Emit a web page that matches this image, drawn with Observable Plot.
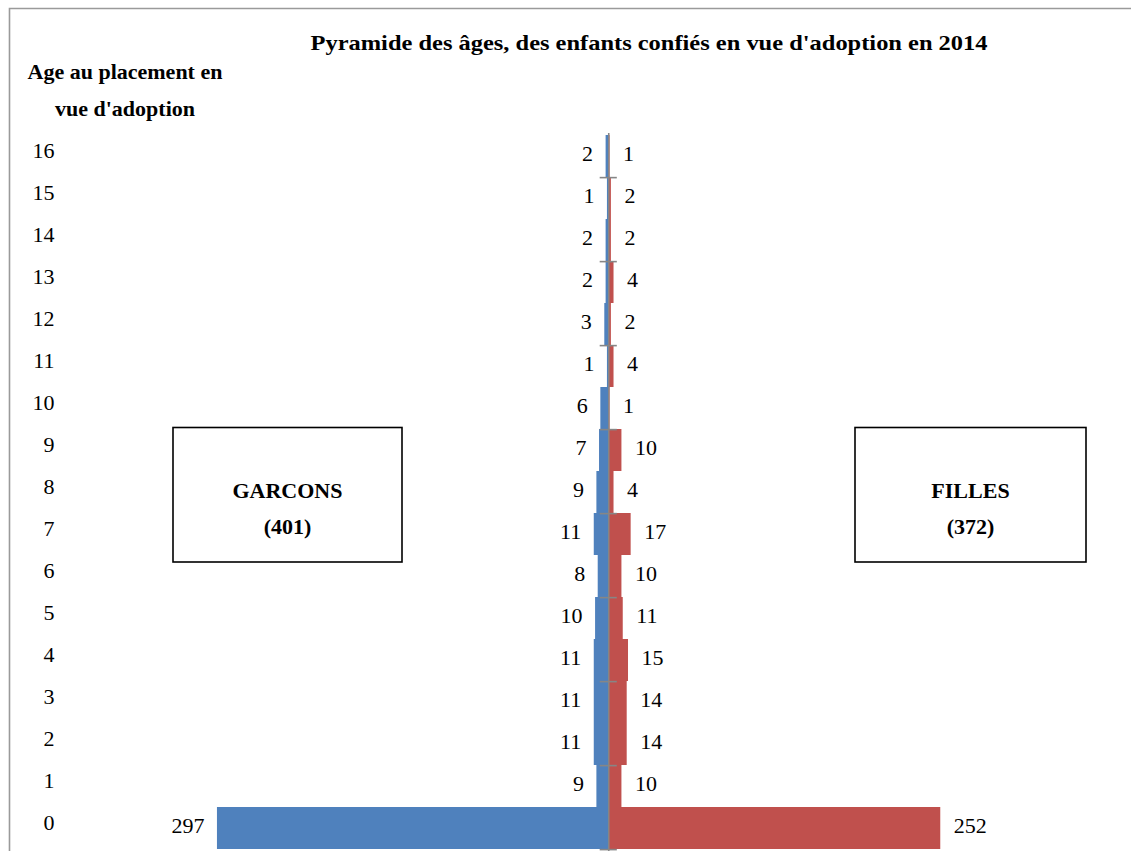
<!DOCTYPE html>
<html><head><meta charset="utf-8">
<script src="https://cdn.jsdelivr.net/npm/d3@7"></script>
<script src="https://cdn.jsdelivr.net/npm/@observablehq/plot@0.6"></script>
<style>
html,body{margin:0;padding:0;background:#fff;}
#chart{position:relative;width:1131px;height:851px;overflow:hidden;}
</style></head><body><div id="chart"></div>
<script>
// ---- data ----
const ages = [16,15,14,13,12,11,10,9,8,7,6,5,4,3,2,1,0];
const garcons = [2,1,2,2,3,1,6,7,9,11,8,10,11,11,11,9,297];
const filles  = [1,2,2,4,2,4,1,10,4,17,10,11,15,14,14,10,252];
const titleText = "Pyramide des âges, des enfants confiés en vue d'adoption en 2014";
const yLabelLines = ["Age au placement en", "vue d'adoption"];
const boxLabels = ["GARCONS", "FILLES"];
const boxTotals = ["(401)", "(372)"];
const colors = {garcons: "#4F81BD", filles: "#C0504D", axis: "#868686"};

const rows = ages.map((a, i) => ({age: a, garcons: garcons[i], filles: filles[i]}));
const font = "'Liberation Serif', 'Times New Roman', serif";
const W = 1131, H = 851, mTop = 133;
const bandwidth = (H - mTop) / ages.length;

const plot = Plot.plot({
  width: W, height: H,
  marginTop: mTop, marginBottom: 0, marginLeft: 213, marginRight: 127.5,
  style: {fontFamily: font, fontSize: "22px", color: "#000", background: "transparent", overflow: "visible"},
  x: {domain: [-300, 300], axis: null},
  y: {domain: ages, padding: 0, label: null},
  marks: [
    Plot.barX(rows, {y: "age", x1: 0, x2: d => -d.garcons, fill: colors.garcons}),
    Plot.barX(rows, {y: "age", x1: 0, x2: "filles", fill: colors.filles}),
    Plot.ruleX([0], {stroke: colors.axis, strokeWidth: 1.6}),
    Plot.ruleY(ages.filter(a => a % 2 === 0), {y: d => d, x1: -6.5, x2: 6.5, dy: bandwidth / 2, stroke: colors.axis, strokeWidth: 1.6}),
    Plot.text(rows, {y: "age", x: d => -d.garcons, text: "garcons", textAnchor: "end", dx: -13, dy: -3, fontSize: 22, fill: "#000"}),
    Plot.text(rows, {y: "age", x: "filles", text: "filles", textAnchor: "start", dx: 13, dy: -3, fontSize: 22, fill: "#000"}),
    Plot.axisY({anchor: "left", tickSize: 0, tickPadding: 159, dy: -6, fontSize: 22, label: null, fill: "#000"})
  ]
});

document.getElementById("chart").appendChild(plot);
const svg = d3.select(plot);

function boldText(x, y, t, size) {
  return svg.append("text").attr("x", x).attr("y", y).attr("text-anchor", "middle")
    .style("font-family", font).style("font-weight", "bold").attr("font-size", size)
    .attr("fill", "#000").text(t);
}

// outer frame (gray, left & top)
svg.append("path").attr("d", `M9.5,${H} V8.5 H${W}`).attr("fill", "none").attr("stroke", "#9a9a9a").attr("stroke-width", 1.6);

// title
boldText(649, 50, titleText, 22).attr("textLength", 677).attr("lengthAdjust", "spacingAndGlyphs");

// y axis title
yLabelLines.forEach((t, i) => boldText(125, i === 0 ? 79 : 116, t, 22));

// annotation boxes
const boxGeom = [{x: 173, y: 427.5, w: 229, h: 134.5}, {x: 855, y: 427.5, w: 231, h: 134.5}];
boxGeom.forEach((b, i) => {
  svg.append("rect").attr("x", b.x).attr("y", b.y).attr("width", b.w).attr("height", b.h)
    .attr("fill", "#fff").attr("stroke", "#000").attr("stroke-width", 1.6);
  boldText(b.x + b.w / 2, 498, boxLabels[i], 22);
  boldText(b.x + b.w / 2, 534, boxTotals[i], 22);
});
</script></body></html>
